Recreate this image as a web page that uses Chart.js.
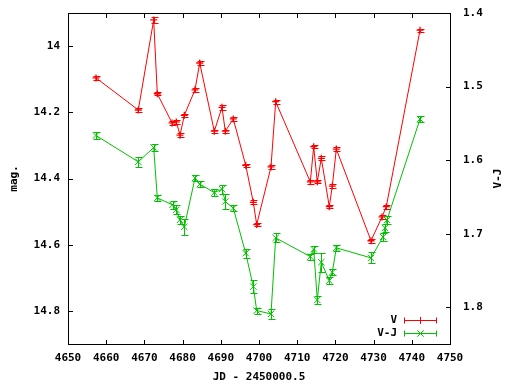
<!DOCTYPE html>
<html><head><meta charset="utf-8">
<script src="https://cdn.jsdelivr.net/npm/chart.js@4.4.0/dist/chart.umd.min.js"></script>
<style>html,body{margin:0;padding:0;background:#fff;}canvas{display:block;}</style>
</head><body>
<canvas id="c" width="512" height="384"></canvas>
<script>
const vDates = [4657.33,4668.40,4672.43,4673.38,4677.23,4678.35,4679.32,4680.45,4683.25,4684.48,4688.30,4690.31,4691.18,4693.27,4696.52,4698.51,4699.40,4703.14,4704.37,4713.43,4714.32,4715.26,4716.31,4718.40,4719.19,4720.24,4729.32,4732.20,4733.32,4742.15];
const vMag = [14.096,14.193,13.921,14.144,14.232,14.229,14.269,14.209,14.132,14.051,14.257,14.185,14.257,14.220,14.360,14.472,14.539,14.365,14.168,14.410,14.304,14.410,14.339,14.485,14.423,14.311,14.588,14.516,14.485,13.952];
const vErr = [0.006,0.006,0.010,0.005,0.005,0.006,0.006,0.005,0.006,0.006,0.005,0.008,0.005,0.005,0.005,0.006,0.005,0.006,0.006,0.006,0.005,0.005,0.006,0.005,0.005,0.005,0.006,0.005,0.006,0.005];
const vjDates = [4657.33,4668.40,4672.43,4673.38,4677.36,4678.35,4679.32,4680.45,4683.25,4684.48,4688.30,4690.31,4691.18,4693.27,4696.52,4698.51,4699.40,4703.14,4704.37,4713.43,4714.32,4715.26,4716.31,4718.40,4719.19,4720.24,4729.32,4732.46,4732.98,4733.51,4742.15];
const vjColor = [1.5665,1.6023,1.5829,1.6513,1.6608,1.6676,1.6812,1.6907,1.6245,1.6327,1.6441,1.6395,1.6563,1.6653,1.7265,1.7720,1.8046,1.8091,1.7057,1.7312,1.7211,1.7901,1.7388,1.7638,1.7524,1.7193,1.7329,1.7044,1.6921,1.6812,1.5442];
const vjErr = [0.0045,0.0068,0.0045,0.0040,0.0050,0.0060,0.0050,0.0105,0.0040,0.0040,0.0050,0.0060,0.0100,0.0040,0.0060,0.0086,0.0040,0.0064,0.0060,0.0040,0.0050,0.0054,0.0130,0.0045,0.0040,0.0037,0.0075,0.0050,0.0050,0.0050,0.0045];
const xTicks = [4650,4660,4670,4680,4690,4700,4710,4720,4730,4740,4750];
const magTicks = [14,14.2,14.4,14.6,14.8];
const vjTicks = [1.4,1.5,1.6,1.7,1.8];
const seriesNames = ['V','V-J'];
const xTitle = 'JD - 2450000.5';
const yTitle = 'mag.';
const y2Title = 'V-J';

const FONT = {family:'"DejaVu Sans Mono", monospace', size:11, weight:'bold'};
const RED = '#ff0000', GREEN = '#00c000';

function pts(xs, ys){ return xs.map((x,i)=>({x:x, y:ys[i]})); }

function drawMarker(ctx, style, x, y){
  ctx.beginPath();
  if (style === 'cross') {
    ctx.moveTo(x-3.5, y); ctx.lineTo(x+3.5, y);
    ctx.moveTo(x, y-3.5); ctx.lineTo(x, y+3.5);
  } else {
    ctx.moveTo(x-3.2, y-3.2); ctx.lineTo(x+3.2, y+3.2);
    ctx.moveTo(x-3.2, y+3.2); ctx.lineTo(x+3.2, y-3.2);
  }
  ctx.stroke();
}

const gp = {
  id: 'gp',
  afterDatasetsDraw(chart){
    const ctx = chart.ctx, a = chart.chartArea;
    ctx.save();
    ctx.lineWidth = 1;
    chart.data.datasets.forEach((ds, di) => {
      const meta = chart.getDatasetMeta(di);
      const ys = chart.scales[ds.yAxisID];
      ctx.strokeStyle = ds.borderColor;
      meta.data.forEach((p, i) => {
        const d = ds.data[i], e = ds.errors[i];
        const x = Math.round(p.x) + 0.5;
        const y1 = Math.round(ys.getPixelForValue(d.y - e)) + 0.5;
        const y2 = Math.round(ys.getPixelForValue(d.y + e)) + 0.5;
        ctx.beginPath();
        ctx.moveTo(x, y1); ctx.lineTo(x, y2);
        ctx.moveTo(x-3, y1); ctx.lineTo(x+4, y1);
        ctx.moveTo(x-3, y2); ctx.lineTo(x+4, y2);
        ctx.stroke();
      });
    });
    ctx.strokeStyle = '#000';
    ctx.strokeRect(a.left+0.5, a.top+0.5, a.right-a.left, a.bottom-a.top);
    const xs = chart.scales.x, yl = chart.scales.y, yr = chart.scales.y2;
    const TL = 4;
    ctx.beginPath();
    xTicks.forEach(v => {
      const px = Math.round(xs.getPixelForValue(v)) + 0.5;
      ctx.moveTo(px, a.bottom); ctx.lineTo(px, a.bottom - TL);
      ctx.moveTo(px, a.top); ctx.lineTo(px, a.top + TL + 1);
    });
    magTicks.forEach(v => {
      const py = Math.round(yl.getPixelForValue(v)) + 0.5;
      ctx.moveTo(a.left, py); ctx.lineTo(a.left + TL + 1, py);
    });
    vjTicks.forEach(v => {
      const py = Math.round(yr.getPixelForValue(v)) + 0.5;
      ctx.moveTo(a.right, py); ctx.lineTo(a.right - TL, py);
    });
    ctx.stroke();
    ctx.fillStyle = '#000';
    ctx.font = 'bold 11px "DejaVu Sans Mono", monospace';
    ctx.save();
    ctx.translate(498, (a.top + a.bottom)/2);
    ctx.rotate(-Math.PI/2);
    ctx.textAlign = 'center'; ctx.textBaseline = 'middle';
    ctx.fillText(y2Title, 0, 0);
    ctx.restore();
    const rows = [320.5, 333.5];
    chart.data.datasets.forEach((ds, di) => {
      const y = rows[di];
      ctx.fillStyle = '#000';
      ctx.textAlign = 'right'; ctx.textBaseline = 'middle';
      ctx.fillText(ds.label, 397, y);
      ctx.strokeStyle = ds.borderColor;
      ctx.beginPath();
      ctx.moveTo(404, y); ctx.lineTo(437, y);
      ctx.moveTo(404.5, y-3); ctx.lineTo(404.5, y+3);
      ctx.moveTo(436.5, y-3); ctx.lineTo(436.5, y+3);
      ctx.stroke();
      drawMarker(ctx, ds.pointStyle, 420.5, y);
    });
    ctx.restore();
  }
};

new Chart(document.getElementById('c'), {
  type: 'scatter',
  data: {
    datasets: [
      {label: seriesNames[0], data: pts(vDates, vMag), errors: vErr, yAxisID: 'y',
       showLine: true, borderColor: RED, backgroundColor: RED, borderWidth: 1,
       pointStyle: 'cross', pointRadius: 3.5, pointBorderWidth: 1.3, pointBorderColor: RED, order: 1},
      {label: seriesNames[1], data: pts(vjDates, vjColor), errors: vjErr, yAxisID: 'y2',
       showLine: true, borderColor: GREEN, backgroundColor: GREEN, borderWidth: 1,
       pointStyle: 'crossRot', pointRadius: 4.5, pointBorderWidth: 1, pointBorderColor: GREEN, order: 0}
    ]
  },
  options: {
    responsive: false, animation: false, devicePixelRatio: 1,
    layout: {padding: {top: 13, left: 0, right: 0, bottom: 0}},
    plugins: {legend: {display: false}, tooltip: {enabled: false}},
    elements: {line: {tension: 0}},
    scales: {
      x: {
        type: 'linear', min: 4650, max: 4750, position: 'bottom',
        afterBuildTicks: s => { s.ticks = xTicks.map(v => ({value: v})); },
        afterFit: s => { s.height = 40; s.paddingLeft = 0; s.paddingRight = 0; },
        grid: {display: false, drawTicks: false}, border: {display: false},
        ticks: {color: '#000', font: FONT, padding: 8, maxRotation: 0, autoSkip: false, callback: v => String(v)},
        title: {display: true, text: xTitle, color: '#000', font: FONT, padding: {top: 0, bottom: 0}}
      },
      y: {
        type: 'linear', min: 13.9, max: 14.9, reverse: true, position: 'left',
        afterBuildTicks: s => { s.ticks = magTicks.map(v => ({value: v})); },
        afterFit: s => { s.width = 68; s.paddingTop = 0; s.paddingBottom = 0; },
        grid: {display: false, drawTicks: false}, border: {display: false},
        ticks: {color: '#000', font: FONT, padding: 8, autoSkip: false, callback: v => String(v)},
        title: {display: true, text: yTitle, color: '#000', font: FONT, padding: {top: 8, bottom: 0}}
      },
      y2: {
        type: 'linear', min: 1.4, max: 1.85, reverse: true, position: 'right',
        afterBuildTicks: s => { s.ticks = vjTicks.map(v => ({value: v})); },
        afterFit: s => { s.width = 62; s.paddingTop = 0; s.paddingBottom = 0; },
        grid: {display: false, drawTicks: false}, border: {display: false},
        ticks: {color: '#000', font: FONT, padding: 13, autoSkip: false, callback: v => String(v)}
      }
    }
  },
  plugins: [gp]
});
</script>
</body></html>
